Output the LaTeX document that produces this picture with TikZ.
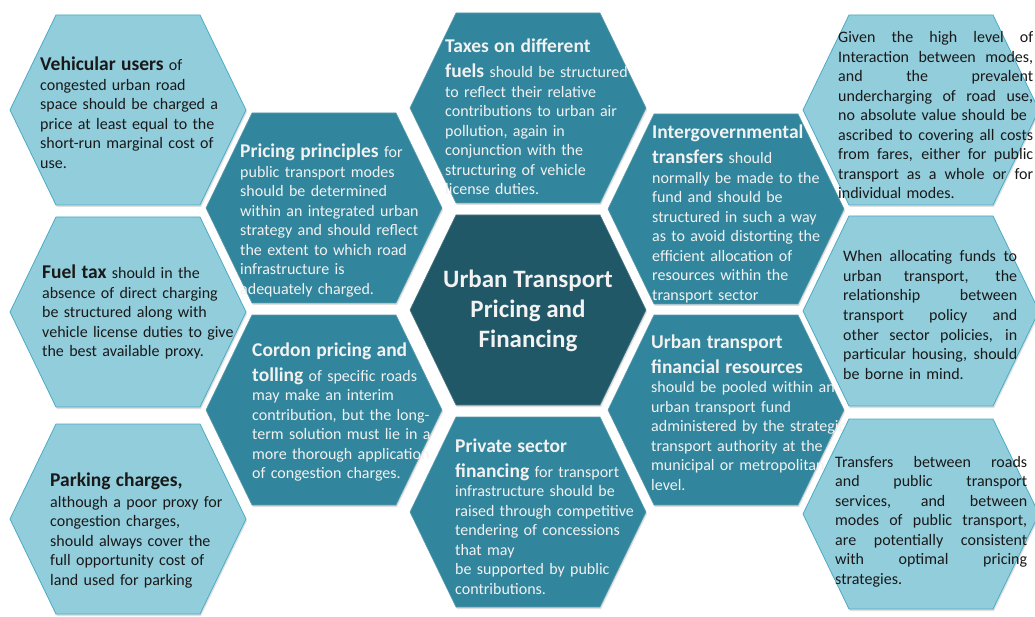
\documentclass[tikz,border=0pt]{standalone}
\usepackage{fontspec}
\setmainfont{Carlito}
\usetikzlibrary{shadows}

\definecolor{cellpale}{RGB}{146,205,220}
\definecolor{celledge}{RGB}{75,172,198}
\definecolor{cellteal}{RGB}{49,133,156}
\definecolor{celldark}{RGB}{32,88,103}
\definecolor{inktext}{RGB}{25,25,25}
\definecolor{paletext}{RGB}{242,242,242}

\newcommand{\cellhead}[1]{{\fontsize{19.5}{19.5}\selectfont\bfseries #1}}
\newcommand{\fillline}[1]{\leavevmode\hbox to \linewidth{\spaceskip=0.23em plus 1fil\relax #1}}

\begin{document}
\begin{tikzpicture}[x=1pt, y=-1pt, font=\fontsize{16}{19.5}\selectfont]
    % Styles
    \tikzstyle{hexpale} = [fill=cellpale, draw=celledge, line width=0.8pt, drop shadow={opacity=0.25, shadow xshift=1pt, shadow yshift=-2pt}]
    \tikzstyle{hexteal} = [fill=cellteal, draw=cellteal!80!white, line width=0.6pt, drop shadow={opacity=0.25, shadow xshift=1pt, shadow yshift=-2pt}]
    \tikzstyle{hexdark} = [fill=celldark, draw=celldark!80!white, line width=0.6pt, drop shadow={opacity=0.25, shadow xshift=1pt, shadow yshift=-2pt}]
    \tikzstyle{celltext} = [anchor=base west, inner sep=0pt, align=left, text width=240pt]
    \tikzstyle{paletxt} = [celltext, text=inktext]
    \tikzstyle{tealtxt} = [celltext, text=paletext]

    % Canvas
    \useasboundingbox (0,0) rectangle (1035,617);
    \fill[white] (0,0) rectangle (1035,617);

    % Inner hexagons
    \foreach \cx/\cy in {324/208, 324/410, 528/108, 528/512, 726/209, 726/410}
        \draw[hexteal] (\cx-118,\cy) -- (\cx-72,\cy-95) -- (\cx+72,\cy-95) -- (\cx+118,\cy) -- (\cx+72,\cy+95) -- (\cx-72,\cy+95) -- cycle;
    \draw[hexdark] (410,310) -- (456,215) -- (600,215) -- (646,310) -- (600,405) -- (456,405) -- cycle;

    % Inner texts
    \node (pricing) [tealtxt] at (240,158) {\cellhead{Pricing principles} for\\ public transport modes\\ should be determined\\ within an integrated urban\\ strategy and should reflect\\ the extent to which road\\ infrastructure is\\ adequately charged.};
    \node (cordon) [tealtxt] at (252,356) {\cellhead{Cordon pricing and}\\[5.5pt] \cellhead{tolling} of specific roads\\ may make an interim\\ contribution, but the long-\\ term solution must lie in a\\ more thorough application\\ of congestion charges.};
    \node (taxes) [tealtxt] at (445,53) {\cellhead{Taxes on different}\\[5.5pt] \cellhead{fuels} should be structured\\ to reflect their relative\\ contributions to urban air\\ pollution, again in\\ conjunction with the\\ structuring of vehicle\\ license duties.};
    \node (private) [tealtxt] at (455,452) {\cellhead{Private sector}\\[5.5pt] \cellhead{financing} for transport\\ infrastructure should be\\ raised through competitive\\ tendering of concessions\\ that may\\ be supported by public\\ contributions.};
    \node (transfers) [tealtxt] at (652,139) {\cellhead{Intergovernmental}\\[5.5pt] \cellhead{transfers} should\\ normally be made to the\\ fund and should be\\ structured in such a way\\ as to avoid distorting the\\ efficient allocation of\\ resources within the\\ transport sector};
    \node (resources) [tealtxt] at (651,348) {\cellhead{Urban transport}\\[5.5pt] \cellhead{financial resources}\\ should be pooled within an\\ urban transport fund\\ administered by the strategic\\ transport authority at the\\ municipal or metropolitan\\ level.};
    \node (title) [text=paletext, align=center, font=\fontsize{25}{30}\selectfont\bfseries] at (528,311) {Urban Transport\\ Pricing and\\ Financing};

    % Outer hexagons
    \foreach \cx/\cy in {128/110, 128/312, 128/519, 921/110, 921/311, 921/514}
        \draw[hexpale] (\cx-118,\cy) -- (\cx-72,\cy-95) -- (\cx+72,\cy-95) -- (\cx+118,\cy) -- (\cx+72,\cy+95) -- (\cx-72,\cy+95) -- cycle;

    % Outer texts
    \node (vehicular) [paletxt] at (40,71) {\cellhead{Vehicular users} of\\ congested urban road\\ space should be charged a\\ price at least equal to the\\ short-run marginal cost of\\ use.};
    \node (fueltax) [paletxt] at (42,279) {\cellhead{Fuel tax} should in the\\ absence of direct charging\\ be structured along with\\ vehicle license duties to give\\ the best available proxy.};
    \node (parking) [paletxt] at (50,486) {\cellhead{Parking charges,}\\[1.5pt] although a poor proxy for\\ congestion charges,\\ should always cover the\\ full opportunity cost of\\ land used for parking};
    \node (fares) [paletxt, text width=195pt] at (838,43) {\fillline{Given the high level of}\\ \fillline{Interaction between modes,}\\ \fillline{and the prevalent}\\ \fillline{undercharging of road use,}\\ no absolute value should be\\ \fillline{ascribed to covering all costs}\\ \fillline{from fares, either for public}\\ \fillline{transport as a whole or for}\\ individual modes.};
    \node (funds) [paletxt, text width=174pt] at (843,262) {\fillline{When allocating funds to}\\ \fillline{urban transport, the}\\ \fillline{relationship between}\\ \fillline{transport policy and}\\ \fillline{other sector policies, in}\\ \fillline{particular housing, should}\\ be borne in mind.};
    \node (modes) [paletxt, text width=192pt] at (835,467) {\fillline{Transfers between roads}\\ \fillline{and public transport}\\ \fillline{services, and between}\\ \fillline{modes of public transport,}\\ \fillline{are potentially consistent}\\ \fillline{with optimal pricing}\\ strategies.};
\end{tikzpicture}
\end{document}
